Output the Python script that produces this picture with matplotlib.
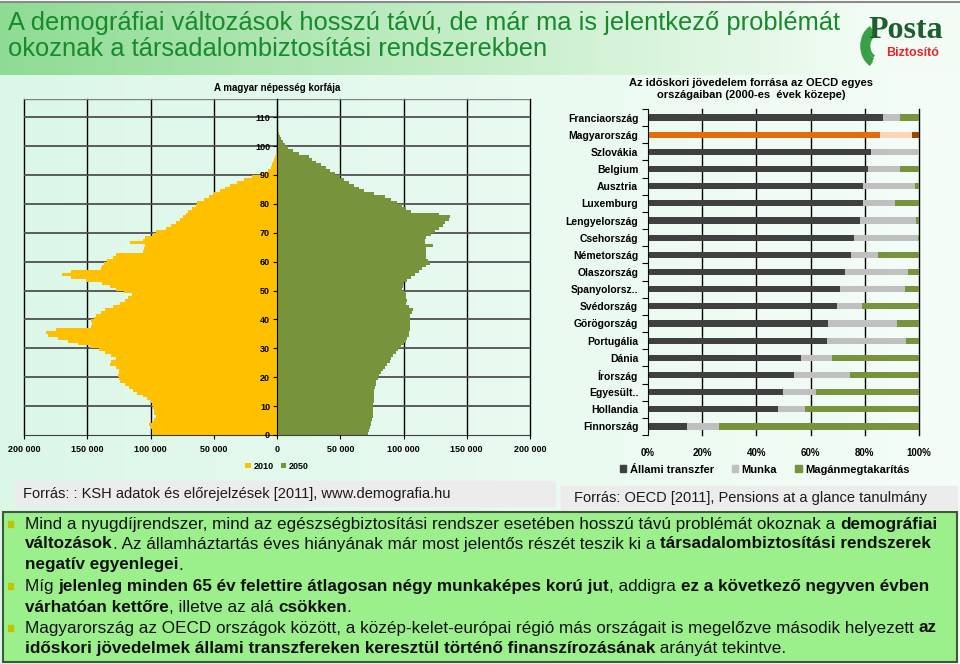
import numpy as np
import matplotlib
matplotlib.use("Agg")
import matplotlib.pyplot as plt
from matplotlib.patches import Rectangle, Arc, Patch
from matplotlib.ticker import FuncFormatter, MultipleLocator

# --- data -------------------------------------------------------------
ages = list(range(0, 107))

pop_2010 = [
    98000, 99000, 100000, 101000, 99000, 97000, 96000, 97000, 97500, 98000,
    99000, 99500, 103000, 106000, 111000, 114000, 117000, 120000, 124000, 125000,
    126000, 125000, 125000, 127000, 132000, 131000, 127000, 131000, 136000, 141000,
    148000, 157000, 165000, 173000, 181000, 183000, 175000, 147000, 146000, 147000,
    145000, 143000, 139000, 136000, 130000, 124000, 120000, 118000, 115000, 121000,
    127000, 132000, 138000, 150000, 163000, 170000, 163000, 139000, 138000, 137000,
    134000, 130000, 127000, 106000, 105000, 104000, 116000, 106000, 104000, 98000,
    96000, 88000, 84000, 80000, 77000, 74000, 72000, 70000, 67000, 64000,
    63000, 58000, 54000, 50000, 45000, 41000, 37000, 32000, 26000, 20000,
    13000, 7000, 5000, 4000, 3000, 2500, 1500, 1000, 600, 300,
    150, 80, 40, 0, 0, 0, 0,
]

pop_2050 = [
    72000, 73000, 73500, 74000, 74500, 75000, 75500, 75500, 76000, 76000,
    76000, 76500, 76500, 77000, 77000, 77000, 77500, 78000, 78500, 79500,
    80500, 82000, 84000, 85500, 87000, 89000, 90500, 92000, 94000, 96000,
    98000, 100000, 102000, 103000, 104000, 104500, 105000, 105500, 105500, 105500,
    105000, 105500, 106500, 107500, 104000, 102000, 103000, 102000, 102000, 101000,
    99000, 99500, 100500, 103000, 106000, 109000, 112000, 115000, 118000, 121000,
    119000, 118000, 118000, 118000, 118000, 123000, 117000, 117000, 118000, 122000,
    125000, 128000, 131000, 133000, 136000, 137000, 128000, 106000, 102000, 99000,
    95000, 90000, 85000, 77000, 69000, 65000, 61000, 57000, 53000, 50000,
    46000, 42000, 38500, 35000, 31000, 28000, 25000, 17000, 13000, 9000,
    6000, 4500, 3000, 2000, 1200, 600, 200,
]

countries = ["Franciaország", "Magyarország", "Szlovákia", "Belgium", "Ausztria",
             "Luxemburg", "Lengyelország", "Csehország", "Németország", "Olaszország",
             "Spanyolorsz..", "Svédország", "Görögország", "Portugália", "Dánia",
             "Írország", "Egyesült..", "Hollandia", "Finnország"]
allami = [86.7, 85.5, 82.4, 81.1, 79.3, 79.3, 78.4, 76.0, 74.9, 72.6,
          71.0, 69.7, 66.4, 66.1, 56.6, 53.8, 49.8, 48.1, 14.5]
munka = [6.4, 11.9, 17.6, 11.8, 19.3, 12.0, 20.6, 23.6, 10.0, 23.3,
         24.0, 9.4, 25.5, 29.2, 11.4, 20.9, 12.1, 10.0, 11.7]
magan = [6.9, 2.6, 0.0, 7.1, 1.4, 8.7, 1.0, 0.4, 15.1, 4.1,
         5.0, 20.9, 8.1, 4.7, 32.0, 25.3, 38.1, 41.9, 73.8]
bar_labels = ["Állami transzfer", "Munka", "Magánmegtakarítás"]

title_lines = ["A demográfiai változások hosszú távú, de már ma is jelentkező problémát",
               "okoznak a társadalombiztosítási rendszerekben"]

bullets = [
    [[("Mind a nyugdíjrendszer, mind az egészségbiztosítási rendszer esetében hosszú távú problémát okoznak a ", "normal"),
      ("demográfiai", "bold")],
     [("változások", "bold"), (". Az államháztartás éves hiányának már most jelentős részét teszik ki a ", "normal"),
      ("társadalombiztosítási rendszerek", "bold")],
     [("negatív egyenlegei", "bold"), (".", "normal")]],
    [[("Míg ", "normal"), ("jelenleg minden 65 év felettire átlagosan négy munkaképes korú jut", "bold"),
      (", addigra ", "normal"), ("ez a következő negyven évben", "bold")],
     [("várhatóan kettőre", "bold"), (", illetve az alá ", "normal"), ("csökken", "bold"), (".", "normal")]],
    [[("Magyarország az OECD országok között, a közép-kelet-európai régió más országait is megelőzve második helyezett ", "normal"),
      ("az", "bold")],
     [("időskori jövedelmek állami transzfereken keresztül történő finanszírozásának", "bold"),
      (" arányát tekintve.", "normal")]],
]

plt.rcParams["font.family"] = ["Liberation Sans", "DejaVu Sans"]

W, H = 960, 664
fig = plt.figure(figsize=(W / 100, H / 100), dpi=100)
renderer = fig.canvas.get_renderer()


def fx(px):
    return px / W


def fy(py):
    return 1 - py / H


def line_width(parts, size):
    # width in pixels of a line made of (text, weight) parts
    total = 0
    for txt, w in parts:
        tmp = fig.text(0, 0, txt, fontsize=size, fontweight=w)
        total += tmp.get_window_extent(renderer=renderer).width
        tmp.remove()
    return total


# --- background -------------------------------------------------------
bg = fig.add_axes([0, 0, 1, 1], zorder=-10)
bg.set_xlim(0, W)
bg.set_ylim(H, 0)
bg.axis("off")
t = np.linspace(0, 1, 256)
c1 = np.array([0.86, 0.97, 0.91])
c2 = np.array([0.96, 0.99, 0.97])
grad = (c1[None, :] * (1 - t[:, None]) + c2[None, :] * t[:, None])[None, :, :]
bg.imshow(grad, extent=[0, W, H, 75], aspect="auto")
g1 = np.array([0.56, 0.86, 0.58])
g2 = np.array([0.95, 0.99, 0.96])
tb = np.clip(t * 1.1, 0, 1)
gradt = (g1[None, :] * (1 - tb[:, None]) + g2[None, :] * tb[:, None])[None, :, :]
bg.imshow(gradt, extent=[0, W, 75, 3], aspect="auto")
bg.plot([0, W], [2, 2], color="#8a8a8a", lw=1.5)

title_size = 20 * 830 / line_width([(title_lines[0], "normal")], 20)
fig.text(fx(8), fy(23), title_lines[0], fontsize=title_size, color="#168a2c", va="center")
fig.text(fx(8), fy(49), title_lines[1], fontsize=title_size, color="#168a2c", va="center")

# logo
fig.text(fx(906), fy(30), "Posta", fontsize=23, color="#1d5e2e", fontweight="bold",
         family=["Liberation Serif", "DejaVu Serif"], ha="center", va="center")
fig.text(fx(913), fy(53), "Biztosító", fontsize=9, color="#e2262b", fontweight="bold",
         ha="center", va="center")
for r, lw in [(30, 4), (24, 3), (18, 2)]:
    bg.add_patch(Arc((878, 46), r, r * 1.3, theta1=110, theta2=250, color="#3aa046", lw=lw))

# --- population pyramid ----------------------------------------------
ax1 = fig.add_axes([fx(24), fy(435), fx(530 - 24), (435 - 99) / H])
ax1.set_facecolor("none")
left = [-v for v in pop_2010]
ax1.barh(ages, left, height=1.0, align="edge", color="#ffc000", zorder=2, label="2010")
ax1.barh(ages, pop_2050, height=1.0, align="edge", color="#77933c", zorder=2, label="2050")
ax1.set_xlim(-200000, 200000)
ax1.set_ylim(0, 116.3)
ax1.set_axisbelow(False)
for xv in range(-200000, 200001, 50000):
    ax1.axvline(xv, color="black", lw=1.0, zorder=1, clip_on=False)
for yv in range(10, 111, 10):
    ax1.axhline(yv, color="#505050", lw=1.3, zorder=1)
ax1.axhline(116.3, color="#808080", lw=1.0, zorder=1)
for s in ["top", "right"]:
    ax1.spines[s].set_visible(False)
ax1.spines["left"].set_position(("data", 0))
ax1.spines["bottom"].set_color("#404040")
ax1.set_yticks(range(0, 111, 10))
ax1.xaxis.set_major_locator(MultipleLocator(50000))
ax1.xaxis.set_major_formatter(FuncFormatter(lambda v, p: f"{abs(v):,.0f}".replace(",", " ")))
ax1.tick_params(axis="both", labelsize=6.5, length=3, width=0.8, pad=2)
ax1.tick_params(axis="x", pad=4)
for lab in ax1.get_xticklabels() + ax1.get_yticklabels():
    lab.set_fontweight("bold")
ax1.set_title("A magyar népesség korfája", fontsize=7, fontweight="bold", pad=6)
ax1.legend(loc="upper center", bbox_to_anchor=(0.5, -0.055), ncol=2, frameon=False,
           handlelength=0.6, handleheight=0.6, handletextpad=0.3, columnspacing=0.8,
           prop={"size": 6.5, "weight": "bold"})

# --- OECD stacked bars ------------------------------------------------
ax2 = fig.add_axes([fx(648), fy(435), fx(919 - 648), (435 - 109) / H])
ax2.set_facecolor("none")
pos = np.arange(len(countries))
c_dark = ["#404040"] * len(countries)
c_gray = ["#c0c0c0"] * len(countries)
c_green = ["#77933c"] * len(countries)
hu = countries.index("Magyarország")
c_dark[hu], c_gray[hu], c_green[hu] = "#e46c0a", "#fcd5b5", "#984807"
bh = 0.36
ax2.barh(pos, allami, height=bh, color=c_dark, zorder=2)
ax2.barh(pos, munka, left=allami, height=bh, color=c_gray, zorder=2)
ax2.barh(pos, magan, left=np.array(allami) + np.array(munka), height=bh, color=c_green, zorder=2)
ax2.set_xlim(0, 100)
ax2.set_ylim(len(countries) - 0.5, -0.5)
for xv in range(20, 101, 20):
    ax2.axvline(xv, color="black", lw=1.0, zorder=1, clip_on=False)
for s in ["top", "right", "bottom"]:
    ax2.spines[s].set_visible(False)
ax2.set_yticks(pos)
ax2.set_yticklabels(countries, fontsize=7.5, fontweight="bold")
ax2.set_yticks(np.arange(-0.5, len(countries), 1), minor=True)
ax2.tick_params(axis="y", which="major", length=0, pad=7)
ax2.tick_params(axis="y", which="minor", length=4, width=0.8)
ax2.set_xticks(range(0, 101, 20))
ax2.set_xticklabels([f"{v}%" for v in range(0, 101, 20)], fontsize=7, fontweight="bold")
ax2.tick_params(axis="x", length=0, pad=9)
ax2.set_title("Az időskori jövedelem forrása az OECD egyes\nországaiban (2000-es  évek közepe)",
              fontsize=8, fontweight="bold", pad=8, x=0.38)
handles = [Patch(color="#404040"), Patch(color="#c0c0c0"), Patch(color="#77933c")]
ax2.legend(handles, bar_labels, loc="upper center", bbox_to_anchor=(0.43, -0.06), ncol=3,
           frameon=False, handlelength=0.6, handleheight=0.6, handletextpad=0.3,
           columnspacing=1.6, prop={"size": 8, "weight": "bold"})

# --- sources ----------------------------------------------------------
bg.add_patch(Rectangle((15, 481), 540, 25, color="#ececec", zorder=1))
bg.text(23, 494, "Forrás: : KSH adatok és előrejelzések [2011], www.demografia.hu",
        fontsize=10.5, va="center", color="#1a1a1a", zorder=2)
bg.add_patch(Rectangle((561, 486), 396, 23, color="#ececec", zorder=1))
bg.text(750, 498, "Forrás: OECD [2011], Pensions at a glance tanulmány",
        fontsize=10.5, va="center", ha="center", color="#1a1a1a", zorder=2)

# --- bottom text box --------------------------------------------------
bg.add_patch(Rectangle((3, 512), 954, 150, facecolor="#9cf08c", edgecolor="#3d5a3d",
                       lw=1.5, zorder=1))
body_size = 12 * 910 / line_width(bullets[0][0], 12)
line_y = [524, 544, 565, 586, 607, 628, 648]
k = 0
for para in bullets:
    bg.add_patch(Rectangle((8, line_y[k] - 3), 5, 6, color="#c3c300", zorder=2))
    for line in para:
        x = 25
        for txt, w in line:
            tt = bg.text(x, line_y[k], txt, fontsize=body_size, fontweight=w, va="center",
                         color="#111111", zorder=3)
            x += tt.get_window_extent(renderer=renderer).width
        k += 1

fig.savefig("out.png", dpi=100)
